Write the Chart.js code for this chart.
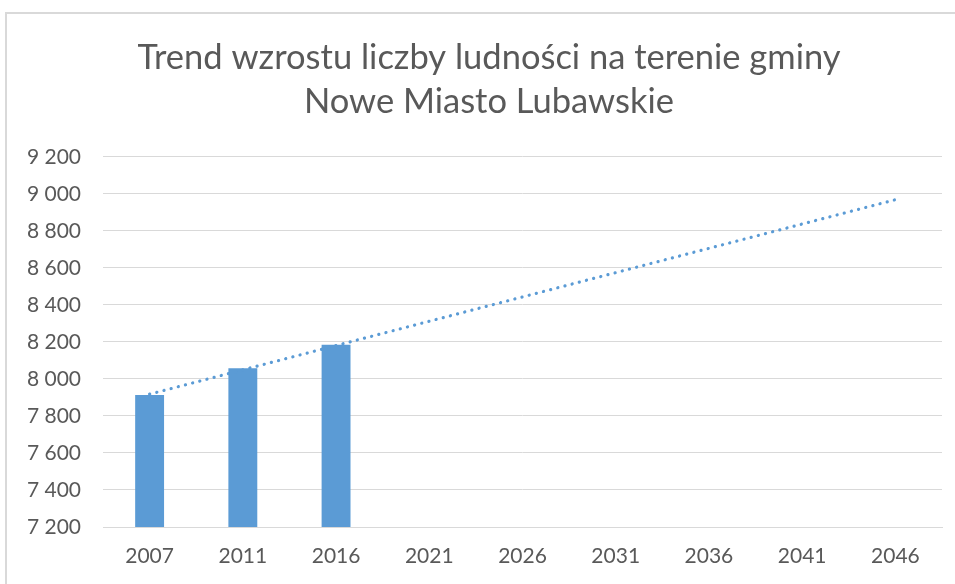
<!DOCTYPE html>
<html><head><meta charset="utf-8">
<script src="https://cdn.jsdelivr.net/npm/chart.js@4/dist/chart.umd.min.js"></script>
<style>
html,body{margin:0;padding:0;background:#fff;overflow:hidden}
#wrap{position:absolute;left:0;top:0;width:955px;height:584px}
#frame{position:absolute;left:5px;top:12px;width:1000px;height:700px;border:2px solid #d9d9d9;box-sizing:border-box}
canvas{position:absolute;left:0;top:0}
</style></head>
<body><div id="wrap"><div id="frame"></div><canvas id="c" width="955" height="584"></canvas></div>
<script>
const categories = ['2007','2011','2016','2021','2026','2031','2036','2041','2046'];
const population = [7913, 8058, 8185, null, null, null, null, null, null];
const trendValues = [7918, null, null, null, null, null, null, null, 8969];
const titleLines = ['Trend wzrostu liczby ludności na terenie gminy', 'Nowe Miasto Lubawskie'];
const yMin = 7200, yMax = 9200, yStep = 200;

const fmt = v => String(v).replace(/\B(?=(\d{3})+(?!\d))/g, ' ');
const FONT = 'Lato, "Open Sans", sans-serif';

new Chart(document.getElementById('c'), {
  data: {
    labels: categories,
    datasets: [
      {type:'line', data: trendValues, borderColor:'#5b9bd5', borderWidth:3.2, borderDash:[0.1,7.3],
       borderCapStyle:'round', pointRadius:0, spanGaps:true, fill:false, order:0},
      {type:'bar', data: population, backgroundColor:'#5b9bd5', barPercentage:0.31, categoryPercentage:1, order:1}
    ]
  },
  options: {
    responsive:false, animation:false,
    layout:{padding:{left:23,right:0,top:0,bottom:0}},
    plugins:{
      legend:{display:false}, tooltip:{enabled:false},
      title:{display:true, text:titleLines, color:'#595959',
        font:{family:FONT, size:34.5, weight:'normal', lineHeight:1.275},
        padding:{top:36,bottom:33}}
    },
    scales:{
      x:{offset:true,
        grid:{display:false, drawTicks:false},
        border:{display:true, color:'#d9d9d9', width:1},
        ticks:{color:'#595959', font:{family:FONT, size:21}, padding:17, maxRotation:0},
        afterFit(s){ s.height = 57; }
      },
      y:{min:yMin, max:yMax,
        grid:{color:'#d9d9d9', drawTicks:false, lineWidth:1},
        border:{display:false},
        ticks:{stepSize:yStep, color:'#595959', font:{family:FONT, size:21}, padding:22,
          callback:v=>fmt(v)},
        afterFit(s){ s.width = 80; }
      },
      pad:{position:'right', display:true,
        grid:{display:false, drawTicks:false}, border:{display:false},
        ticks:{display:false},
        afterFit(s){ s.width = 13; }
      }
    }
  }
});
</script></body></html>
